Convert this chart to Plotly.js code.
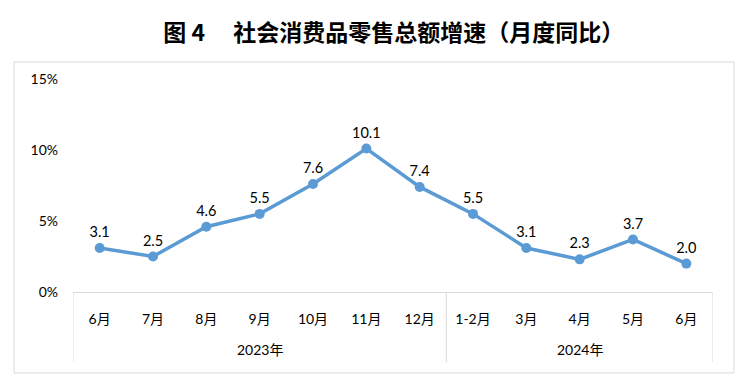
<!DOCTYPE html>
<html><head><meta charset="utf-8">
<script src="https://cdn.plot.ly/plotly-3.0.1.min.js"></script>
<style>body{margin:0;background:#fff}#c{width:750px;height:386px}</style>
</head><body><div id="c"></div>
<script>
var categories = ["6月","7月","8月","9月","10月","11月","12月","1-2月","3月","4月","5月","6月"];
var values = [3.1, 2.5, 4.6, 5.5, 7.6, 10.1, 7.4, 5.5, 3.1, 2.3, 3.7, 2.0];
var yearLabels = ["2023年", "2024年"];
var yTickVals = [0, 5, 10, 15];
var yTickText = ["0%", "5%", "10%", "15%"];

var xIdx = categories.map(function(_, i){ return i; });
var labelFont = {family: "Lato, 'Noto Sans CJK SC', sans-serif", size: 14.5, color: "#000"};
var axisFont = {family: "Lato, 'Noto Sans CJK SC', sans-serif", size: 14, color: "#000"};

var trace = {
  x: xIdx, y: values, type: "scatter", mode: "lines+markers+text",
  text: values.map(function(v){ return v.toFixed(1); }),
  textposition: "top center", textfont: labelFont,
  line: {color: "#5b9bd5", width: 3.5},
  marker: {color: "#5b9bd5", size: 10},
  cliponaxis: false, hoverinfo: "none"
};

var gray = "#d9d9d9";
var shapes = [
  {type:"rect", xref:"paper", yref:"paper", x0:-0.0922, x1:1.0328, y0:-0.380, y1:1.080, line:{color:gray, width:1}},
  {type:"line", xref:"x", yref:"paper", x0:-0.5, x1:-0.5, y0:0, y1:-0.329, line:{color:gray, width:1}},
  {type:"line", xref:"x", yref:"paper", x0:6.5, x1:6.5, y0:0, y1:-0.329, line:{color:gray, width:1}},
  {type:"line", xref:"x", yref:"paper", x0:11.5, x1:11.5, y0:0, y1:-0.329, line:{color:gray, width:1}}
];
var annotations = [
  {x:3, y:-0.27, xref:"x", yref:"paper", text:yearLabels[0], showarrow:false, font:axisFont, yanchor:"middle"},
  {x:9, y:-0.27, xref:"x", yref:"paper", text:yearLabels[1], showarrow:false, font:axisFont, yanchor:"middle"}
];

var layout = {
  width: 750, height: 386,
  margin: {l:73, r:37, t:79, b:94},
  paper_bgcolor: "#fff", plot_bgcolor: "#fff",
  title: {text: "图 4　 社会消费品零售总额增速（月度同比）", x: 0.525, xanchor: "center", y: 0.915, yanchor: "middle",
          font: {family: "'Noto Sans CJK SC', serif", size: 23, color: "#000", weight: "bold"}},
  showlegend: false,
  xaxis: {range: [-0.5, 11.5], tickvals: xIdx, ticktext: categories, showgrid: false, zeroline: false,
          showline: true, linecolor: gray, linewidth: 1, ticks: "", tickfont: axisFont, ticklabelstandoff: 14, fixedrange: true},
  yaxis: {range: [0, 15], tickvals: yTickVals, ticktext: yTickText, showgrid: false, zeroline: false,
          showline: false, ticks: "", tickfont: axisFont, ticklabelstandoff: 14, fixedrange: true},
  shapes: shapes, annotations: annotations
};
Plotly.newPlot("c", [trace], layout, {staticPlot: true});
</script></body></html>
